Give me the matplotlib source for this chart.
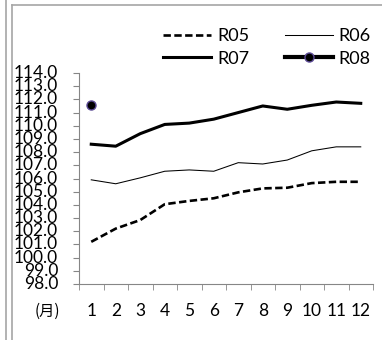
import matplotlib
matplotlib.use("Agg")
import matplotlib.pyplot as plt
from matplotlib.lines import Line2D

months = [1, 2, 3, 4, 5, 6, 7, 8, 9, 10, 11, 12]
month_labels = ["1", "2", "3", "4", "5", "6", "7", "8", "9", "10", "11", "12"]
r05 = [101.2, 102.2, 102.85, 104.05, 104.3, 104.5, 104.95, 105.25, 105.3, 105.65, 105.75, 105.75]
r06 = [105.9, 105.6, 106.05, 106.55, 106.65, 106.55, 107.2, 107.1, 107.4, 108.1, 108.4, 108.4]
r07 = [108.6, 108.45, 109.4, 110.1, 110.2, 110.5, 111.0, 111.5, 111.25, 111.55, 111.8, 111.7]
r08_months = [1]
r08 = [111.6]
yticks = [98 + i for i in range(17)]

plt.rcParams['font.family'] = ['Lato', 'Noto Sans CJK JP', 'DejaVu Sans']

fig = plt.figure(figsize=(3.82, 3.40), dpi=100)
ax = fig.add_axes([79/382, 1-284/340, (373-79)/382, (284-73)/340])

l5, = ax.plot(months, r05, color='black', lw=1.9, ls=(0, (2.8, 1.3)), label='R05')
l6, = ax.plot(months, r06, color='black', lw=0.75, label='R06')
l7, = ax.plot(months, r07, color='black', lw=2.2, label='R07')
l8, = ax.plot(r08_months, r08, color='black', lw=3.0, marker='o', ms=6.5,
              mfc='black', mec='#5b4a94', mew=1.0, label='R08')

ax.set_xlim(0.5, 12.5)
ax.set_ylim(98, 114)
ax.set_yticks(yticks)
ax.set_yticklabels([f"{v:.1f}" for v in yticks])
ax.set_xticks(months)
ax.set_xticklabels(month_labels)
ax.set_xticks([m + 0.5 for m in [0] + months], minor=True)
ax.tick_params(axis='x', which='major', length=0, pad=14, labelsize=12.5)
ax.tick_params(axis='x', which='minor', length=4, color='#868686', direction='out')
ax.tick_params(axis='y', length=4, color='#868686', pad=11, labelsize=12.5)
for s in ['top', 'right']:
    ax.spines[s].set_visible(False)
for s in ['left', 'bottom']:
    ax.spines[s].set_color('#868686')
    ax.spines[s].set_linewidth(0.8)
for lab in ax.get_yticklabels():
    lab.set_verticalalignment('center')

ax.text(-0.109, -0.13, "(月)", transform=ax.transAxes, fontsize=11,
        family=['Noto Sans CJK JP', 'DejaVu Sans'], ha='center', va='center')

fig.legend(handles=[l5, l7, l6, l8], labels=['R05', 'R07', 'R06', 'R08'], ncol=2,
           frameon=False, fontsize=13, handlelength=2.67, handletextpad=0.33,
           columnspacing=1.95, labelspacing=0.36, borderpad=0, borderaxespad=0,
           loc='upper left', bbox_to_anchor=(163/382, 1-28/340))

grey = '#a6a6a6'
fig.add_artist(Line2D([6/382, 6/382], [0, 1], transform=fig.transFigure, color=grey, lw=1.2))
fig.add_artist(Line2D([12/382, 12/382], [0, 1-5/340], transform=fig.transFigure, color=grey, lw=1.2))
fig.add_artist(Line2D([12/382, 1], [1-5/340, 1-5/340], transform=fig.transFigure, color=grey, lw=1.2))

fig.savefig("out.png", dpi=100)
